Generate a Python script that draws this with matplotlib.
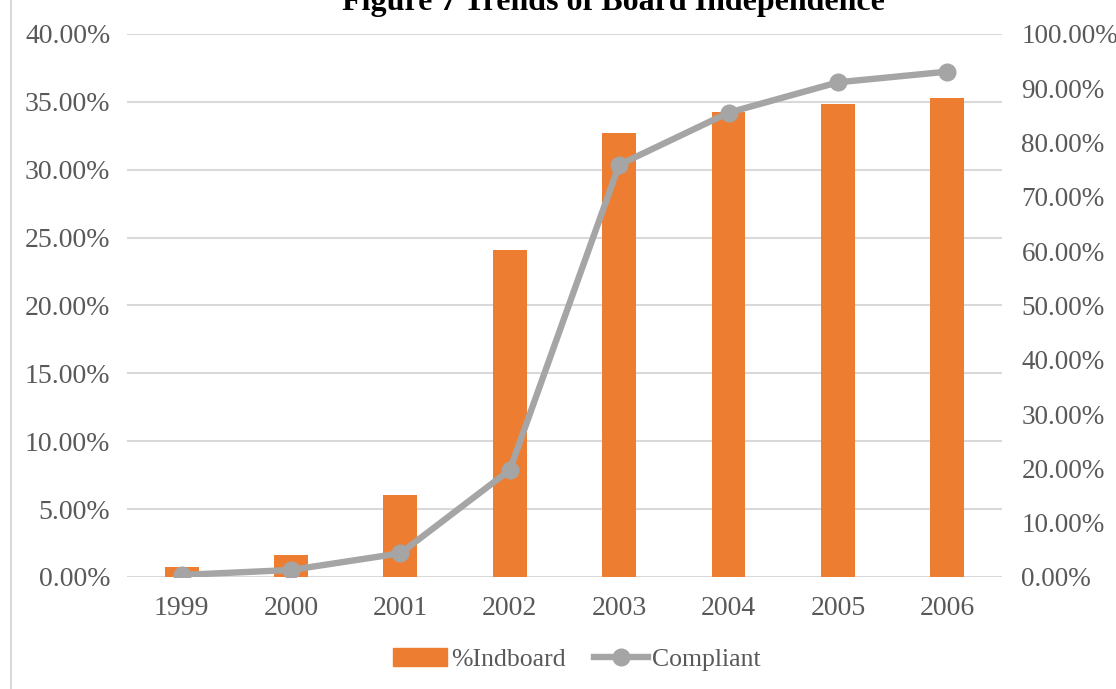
import numpy as np
import matplotlib
matplotlib.use("Agg")
import matplotlib.pyplot as plt
from matplotlib.patches import Patch
from matplotlib.lines import Line2D
from matplotlib.ticker import PercentFormatter

# data (percent)
years = ["1999", "2000", "2001", "2002", "2003", "2004", "2005", "2006"]
indboard = [0.74, 1.62, 6.04, 24.09, 32.68, 34.23, 34.84, 35.29]
compliant = [0.37, 1.29, 4.36, 19.7, 75.9, 85.5, 91.1, 93.06]

orange = "#ED7D31"
grey = "#A5A5A5"
txt = "#595959"
grid = "#D9D9D9"

plt.rcParams["font.family"] = ["Liberation Serif", "DejaVu Serif"]

fig = plt.figure(figsize=(11.16, 6.89), dpi=100)
ax = fig.add_axes([0.1138, 0.1626, 0.784, 0.7881])
ax2 = ax.twinx()

x = np.arange(len(years))
ax.bar(x, indboard, width=0.31, color=orange, zorder=2)
ax.set_xlim(-0.5, len(years) - 0.5)
ax.set_ylim(0, 40)
ax.set_yticks(np.arange(0, 40.1, 5))
ax.yaxis.set_major_formatter(PercentFormatter(decimals=2))
ax.set_xticks(x)
ax.set_xticklabels(years)
ax.grid(axis="y", color=grid, lw=1.5, zorder=0)
ax.set_axisbelow(True)

ax2.set_ylim(0, 100)
ax2.set_yticks(np.arange(0, 100.1, 10))
ax2.yaxis.set_major_formatter(PercentFormatter(decimals=2))
ax2.plot(x, compliant, color=grey, lw=4.6, marker="o", ms=12,
         solid_joinstyle="round", solid_capstyle="round", zorder=3)

for a in (ax, ax2):
    for s in a.spines.values():
        s.set_visible(False)
    a.tick_params(length=0, labelsize=20, colors=txt, pad=12)
ax.tick_params(axis="x", pad=14)
ax2.tick_params(axis="y", pad=14, labelsize=19.5)

# left border of chart area
fig.add_artist(Line2D([0.0095, 0.0095], [0, 1], color=grid, lw=1.5))

fig.text(0.55, 0.9855, "Figure 7 Trends of Board Independence", ha="center",
         va="baseline", fontsize=23, fontweight="bold", color="black")

handles = [Patch(color=orange),
           Line2D([], [], color=grey, lw=4.6, marker="o", ms=12)]
fig.legend(handles, ["%Indboard", "Compliant"], loc="center",
           bbox_to_anchor=(0.517, 0.043), ncol=2, frameon=False, fontsize=18.5,
           labelcolor=txt, handlelength=2.1, handletextpad=0.15, columnspacing=1.1)

fig.savefig("out.png", dpi=100)
